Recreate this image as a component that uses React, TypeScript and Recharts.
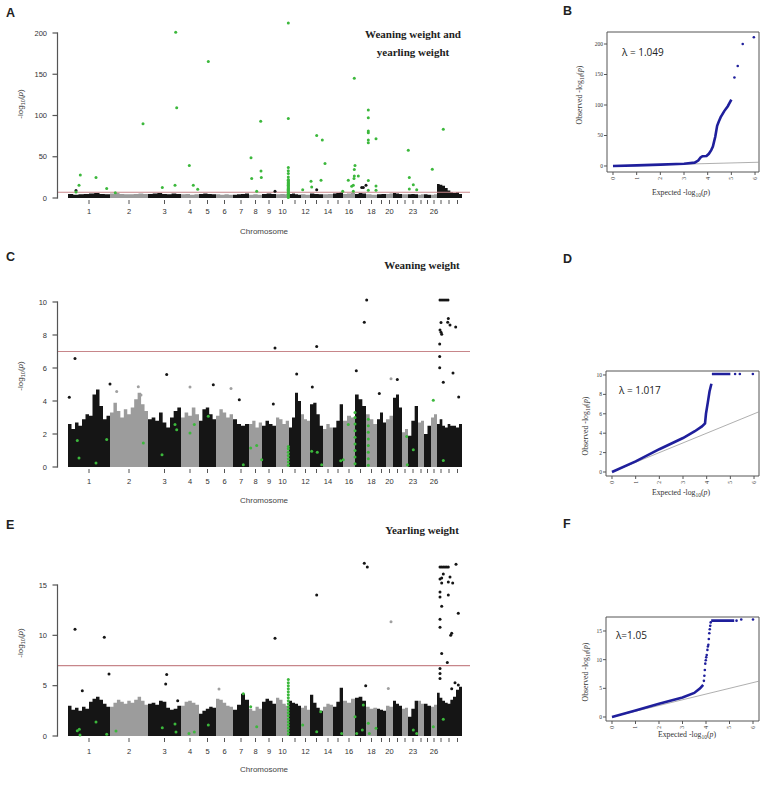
import React from "react";
import { ComposedChart, Area, Scatter, Line, XAxis, YAxis, ReferenceLine, ReferenceArea } from "recharts";

// chromosome layout as plotted (widths in genome-axis units)
const chrNames = ["1","2","3","4","5","6","7","8","9","10","11","12","13","14","15","16","17","18","19","20","21","22","23","24","25","26","27","28","29"];
const chrLen = [42,38,33,18,17,17,16,13,14,13,12,9,13,10,10,12,11,11,9,7,9,6,10,6,7,6,8,8,9];
const chrShade = ["k","g","k","g","k","g","k","g","k","g","k","g","k","g","k","g","k","g","k","g","k","g","k","g","k","g","k","k","k"];
const chrShown = ["1","2","3","4","5","6","7","8","9","10","12","14","16","18","20","23","26"];

// upper envelope of the dense SNP cloud per chromosome (-log10 p)
const massA = [
  [5,4,4.5,5,5.5,6,5,4.5],[5.5,6,5,4.5,4.5,5,5.5,5],[5,5.5,6,5,4.5,5.5,5],[4.5,5,4,4.5],[5,5.5,5,4.5],
  [4.5,4,4.5,4],[4,4.5,5,5.5],[4,4.5,4],[5,5.5,5],[4.5,5,4.5],[5,5.5,4.5,4],[4.5,4],[5.5,5,4.5],[4.5,5],
  [5.5,6,7],[5,5.5,6],[5,6,5.5],[4.5,4],[4.5,5],[5,5.5],[6,5.5,5],[4.5],[4.5,5,4.5],[4,4.5],[4.5,4],[4,4.5],
  [17,16,15],[12,9,7],[6,7,5],
];
const massC = [
  [2.6,2.3,2.7,2.5,2.9,3.2,3.1,4.4,4.7,3.7,2.9,3.1],[3.3,3.9,3.4,3.0,3.5,3.2,3.6,4.1,4.5,3.8,3.4],
  [2.9,3.0,2.8,3.3,2.7,2.4,3.0,3.4,3.6],[3.0,3.3,3.1,3.6,3.2],[2.8,3.5,3.6,3.2,2.9],[3.1,3.5,3.3,3.0,3.2],
  [2.9,2.6,2.5,2.6],[2.6,2.8,2.4,2.7],[2.5,2.8,2.6,2.5],[3.0,2.9,2.6,2.8],[2.4,3.0,4.5,4.0],[3.2,2.9,2.8],
  [3.8,3.9,3.2,2.5],[2.3,2.6,2.4],[2.4,2.8,3.8],[2.8,3.1,3.0],[4.4,4.1,3.7],[3.2,2.9,2.6],[2.9,3.3,2.7],
  [2.9,3.1],[4.2,4.4,3.6],[2.1,2.3],[1.9,2.8,3.7],[2.7,2.8],[2.0,2.5],[3.0,3.2],[2.6,2.9,2.5],[2.4,2.6,2.5],[2.5,2.4,2.6],
];
const massE = [
  [3.0,2.6,2.8,2.5,2.9,2.7,3.4,3.7,3.9,3.6,3.2,2.9],[2.9,3.3,3.6,3.4,3.2,3.5,3.3,3.6,3.9,3.5,3.1],
  [3.2,3.3,3.1,3.5,3.4,2.8,2.6,2.7,3.0],[3.0,3.4,3.5,3.3,3.1],[2.2,2.5,2.7,2.9,2.8],[3.7,3.6,3.3,3.0,2.9],
  [2.6,3.1,4.2,3.6],[2.7,2.5,2.9,2.7],[3.4,3.7,3.5,3.2],[3.8,3.6,3.2,3.0],[3.5,3.3,3.2,3.0],[2.8,3.0,2.6],
  [4.1,3.3,2.8,2.5],[2.9,3.2,3.1],[2.9,3.4,4.8],[3.5,3.3,3.7],[3.8,3.9,3.5],[2.9,2.7,2.8],[2.7,2.6,2.5],
  [3.0,2.9],[3.5,3.2,3.0],[2.7,2.8],[1.9,2.7,3.5],[3.5,3.2],[3.2,3.0],[2.9,3.1],[4.3,3.8,3.5],[3.3,3.2,3.6],[3.9,4.6,4.9],
];

// individual SNPs [position, -log10 p]
const greenA = [[12.3,28],[11,15.4],[8,7.3],[28,24.7],[38.7,11.4],[47.3,6.5],[75,90],[94.3,12.6],[107.7,201],[108.7,109.5],[107,15.4],[121.3,39.4],[125.3,15.4],[129.7,10.5],[140.3,165.5],[183,48.7],[183.7,23.5],[188.7,8.1],[192.7,92.9],[193,32.8],[193.3,24.7],[220.3,212],[220.3,96.5],[234.7,10.1],[243,20.3],[243.7,13.4],[248.7,75.9],[253,21.5],[254.3,70.2],[257,41.8],[274.7,8.1],[280.3,21.5],[283.7,14.2],[286.3,145.2],[287,39.4],[286.3,34.5],[286.3,26.8],[286,23.5],[285.3,15.4],[285.3,8.1],[290.3,26.8],[300.3,106.7],[300.3,97.4],[300.3,81.1],[300.3,79.1],[300.3,70.2],[300.3,66.9],[300.3,21.1],[300.3,9.3],[308,71.8],[308,14.6],[308,9.3],[340.3,58],[341.3,24.7],[345.3,16.2],[348.7,10.1],[341.3,11],[364.3,34.9],[375.3,83.2]];
const blackA = [[8,9],[207,8.1],[248.7,10.1],[293.7,12.6],[295.3,12.6],[298,15.4]];
const greyA: number[][] = [];
const blackC = [[298.7,10.12],[296.3,8.77],[372,10.12],[374,10.12],[376,10.12],[378,10.12],[380,10.12],[373,8.75],[372,8.3],[373,8.16],[373.7,8.04],[371.7,7.45],[371.7,6.69],[371.7,6.02],[380.3,9.0],[379.7,8.77],[382,8.6],[387.7,8.48],[385,5.7],[375.3,5.13],[390.7,4.24],[288.3,5.84],[311.3,4.46],[329.3,5.3],[207,7.21],[248.7,7.31],[7,6.57],[98.7,5.6],[228.7,5.64],[244.3,4.85],[145.3,4.99],[1.3,4.22],[42,5.03],[171.3,4.08],[205.3,3.82]];
const greyC = [[323,5.35],[122,4.85],[163,4.75],[70.3,4.87],[48.7,4.57],[73,4.36]];
const greenC = [[9.3,1.6],[11,0.55],[28,0.24],[38.7,1.66],[75.3,1.45],[94,0.75],[107,2.57],[108.7,2.26],[122,2.06],[126.3,2.57],[140.3,3.07],[175.3,0.14],[182.7,1.15],[188.7,1.3],[193.7,0.44],[243.7,0.95],[249.3,0.9],[253.7,0.14],[272.7,0.38],[275.3,0.44],[280.3,2.57],[287,0.2],[287,0.6],[287,1.0],[287,1.4],[287,1.8],[287,2.2],[287,2.6],[287,3.0],[287,3.3],[300.3,0.1],[300.3,0.5],[300.3,0.9],[300.3,1.3],[300.3,1.7],[300.3,2.1],[300.3,2.5],[300.3,2.9],[338.7,1.85],[339.3,0.14],[345.3,1.05],[365.3,4.04],[375.3,0.4]];
const blackE = [[7,10.6],[36.3,9.8],[41,6.15],[14.3,4.5],[98.7,6.1],[97.7,5.16],[109.7,3.5],[207,9.7],[248.7,14.0],[296.3,17.15],[299.3,16.8],[297.7,5.0],[372,16.8],[373.7,16.8],[375.3,16.8],[377,16.8],[378.7,16.8],[380.3,16.8],[388,17.05],[372,15.6],[373.7,15.7],[373.7,15.2],[375.3,16.1],[372,14.3],[372,13.8],[373.7,12.9],[372,11.6],[372,10.8],[373.7,8.2],[372,6.7],[372,6.2],[372,5.7],[380.3,14.0],[380.3,15.3],[382,15.8],[384.7,15.2],[383.7,10.2],[382.7,10.0],[379.3,7.3],[390.3,12.2],[387,5.3],[390.3,5.07],[383.7,4.7]];
const greyE = [[323,11.36],[320.3,4.73],[151,4.67]];
const greenE = [[9.3,0.53],[11.3,0.66],[12,0.1],[28,1.39],[38.7,0.17],[48,0.5],[94.3,0.83],[107,1.19],[108,0.4],[121,0.26],[126.3,0.4],[140.3,1.09],[175.3,4.2],[182.7,2.9],[188.7,0.93],[234.7,1.1],[248.7,0.43],[252.7,2.4],[273.7,0.26],[287,1.9],[288.7,0.26],[295.3,3.08],[294.3,0.6],[300.3,1.26],[301.3,0.26],[308,0.76],[345.3,0.6],[348.7,0.26],[365.3,0.93],[375.3,1.66]];

// the green chr10 column of SNPs
const colPos = 220.3;
const colA = [0.5,1.5,2.5,3.5,4.5,5.5,6.5,7.5,8.5,9.5,10.5,11.5,12.5,13.5,14.5,15.5,16.5,17.5,18.5,19.5,20.5,21.5,22.5,25.6,29.6,33,37];
const colC = [0.1,0.3,0.5,0.7,0.9,1.1,1.25];
const colE = [0.2,0.5,0.8,1.1,1.4,1.7,2.0,2.3,2.6,2.9,3.2,3.5,3.8,4.1,4.4,4.7,5.0,5.3,5.6];

// QQ plots [expected, observed]
const qqBLine = [[0,0],[1,1],[2,2.2],[3,3.6],[3.45,5.5],[3.6,9],[3.7,14],[3.78,16],[3.95,16.5],[4.05,20],[4.15,26],[4.22,32],[4.27,40],[4.32,48],[4.36,57],[4.4,66],[4.47,73],[4.55,80],[4.7,90],[4.85,98],[5.0,109]];
const qqBDots = [[5.13,145],[5.27,164],[5.48,200],[5.95,211]];
const qqDLine = [[0,0],[1,1.1],[2,2.35],[3,3.5],[3.5,4.2],[3.8,4.7],[3.93,5.0],[3.97,6.0],[4.05,7.2],[4.12,8.3],[4.2,9.1],[4.21,null],[4.22,10.1],[5.0,10.1]];
const qqDDots = [[5.2,10.1],[5.4,10.1],[5.95,10.1]];
const qqFLine = [[0,0],[1,1.15],[2,2.3],[3,3.4],[3.5,4.2],[3.75,5.0],[3.88,5.6],[3.89,null],[4.22,16.8],[5.2,16.8]];
const qqFDots = [[3.91,6.3],[3.93,7.2],[3.95,8.2],[3.97,9.3],[3.99,9.9],[4.01,10.4],[4.03,10.8],[4.06,11.7],[4.08,12.3],[4.1,12.6],[4.12,13.6],[4.14,14.6],[4.16,15.3],[4.18,15.9],[4.2,16.5],[5.3,16.8],[5.5,17.0],[6.0,17.0]];
const qqDiag = [[0,0],[6.25,6.25]];

const sans = "'Liberation Sans', Arial, sans-serif";
const serif = "'Liberation Serif', 'Times New Roman', serif";
const BLUE = "#1f1f9c";
const GREEN = "#3cb83c";
const xDomain = [-11, 402];

const centers: number[] = [];
{
  let s = 0;
  chrLen.forEach((l) => { centers.push(s + l / 2); s += l; });
}

// step-area rows for the SNP cloud
function buildMass(heights: number[][]) {
  const rows: any[] = [];
  let start = 0;
  chrLen.forEach((len, i) => {
    const key = chrShade[i] === "k" ? "blk" : "gry";
    const hs = heights[i];
    const w = len / hs.length;
    hs.forEach((h, j) => rows.push({ pos: start + j * w, [key]: h }));
    rows.push({ pos: start + len, [key]: hs[hs.length - 1] });
    start += len;
  });
  return rows;
}

const toPts = (a: number[][]) => a.map(([pos, p]) => ({ pos, p }));
const colPts = (vals: number[]) => vals.map((p) => ({ pos: colPos, p }));
const toQQ = (a: (number | null)[][]) => a.map(([e, o]) => ({ e, o }));
const dot = (fill: string, r: number) => (props: any) => <circle cx={props.cx} cy={props.cy} r={r} fill={fill} />;

// R-style y axis: a line from the first to the last tick, ticks pointing left
const RAxisY = (props: any) => {
  const { x, y, payload, index, yTop, yBottom } = props;
  return (
    <g>
      <line x1={x + 5.5} x2={x + 10.5} y1={y} y2={y} stroke="#555" strokeWidth={1.2} />
      {index === 0 && <line x1={x + 10.5} x2={x + 10.5} y1={yBottom + 0.6} y2={yTop - 0.6} stroke="#555" strokeWidth={1.2} />}
      <text x={x} y={y} dy="0.35em" textAnchor="end" fontSize={7.5} fill="#333" fontFamily={sans}>{payload.value}</text>
    </g>
  );
};

const Manhattan = ({ top, height, marginTop, yDomain, yTicks, tickGap, mass, black, grey, green, col }: any) => {
  const plotH = height - marginTop - 30;
  const span = yDomain[1] - yDomain[0];
  const yPix = (v: number) => marginTop + ((yDomain[1] - v) / span) * plotH;
  return (
    <div style={{ position: "absolute", left: 0, top }}>
      <ComposedChart width={480} height={height} data={buildMass(mass)} margin={{ top: marginTop, right: 10, bottom: 0, left: 0 }}>
        <XAxis dataKey="pos" type="number" domain={xDomain} allowDataOverflow ticks={centers} interval={0}
          tickFormatter={(v: number, i: number) => (chrShown.includes(chrNames[i]) ? chrNames[i] : "")}
          tickSize={4} tickMargin={tickGap} tickLine={{ stroke: "#555" }} axisLine={false} height={30}
          tick={{ fontSize: 7.5, fill: "#333", fontFamily: sans }} />
        <YAxis type="number" domain={yDomain} allowDataOverflow ticks={yTicks} interval={0} width={57}
          tickSize={4} tickMargin={6} tickLine={false} axisLine={false}
          tick={<RAxisY yTop={yPix(yTicks[yTicks.length - 1])} yBottom={yPix(yTicks[0])} />} />
        <Area dataKey="gry" type="stepAfter" fill="#9c9c9c" fillOpacity={1} stroke="none" baseValue={0} dot={false} activeDot={false} isAnimationActive={false} />
        <Area dataKey="blk" type="stepAfter" fill="#151515" fillOpacity={1} stroke="none" baseValue={0} dot={false} activeDot={false} isAnimationActive={false} />
        <Scatter data={toPts(grey)} dataKey="p" shape={dot("#a0a0a0", 1.5)} isAnimationActive={false} />
        <Scatter data={toPts(black)} dataKey="p" shape={dot("#151515", 1.5)} isAnimationActive={false} />
        <Scatter data={[...toPts(green), ...colPts(col)]} dataKey="p" shape={dot(GREEN, 1.5)} isAnimationActive={false} />
        <ReferenceLine y={7} stroke="#c7868a" strokeWidth={1.2} ifOverflow="visible" />
      </ComposedChart>
    </div>
  );
};

const QQXTick = (props: any) => {
  const { x, y, payload } = props;
  return (
    <text x={x} y={y} transform={`rotate(-90 ${x} ${y})`} textAnchor="end" dy="0.35em" fontSize={5.5} fill="#333" fontFamily={serif}>
      {payload.value}
    </text>
  );
};

const QQ = ({ top, height, marginTop, yWidth, xDom, yDom, yTicks, line, dots }: any) => (
  <div style={{ position: "absolute", left: 560, top }}>
    <ComposedChart width={207} height={height} margin={{ top: marginTop, right: 8, bottom: 0, left: 0 }}>
      <XAxis dataKey="e" type="number" domain={xDom} allowDataOverflow ticks={[0, 1, 2, 3, 4, 5, 6]} interval={0}
        tickSize={3} tickMargin={2} tickLine={{ stroke: "#555" }} axisLine={false} height={30} tick={<QQXTick />} />
      <YAxis type="number" domain={yDom} allowDataOverflow ticks={yTicks} interval={0} width={yWidth}
        tickSize={3} tickMargin={1} tickLine={{ stroke: "#555" }} axisLine={false}
        tick={{ fontSize: 5.5, fill: "#333", fontFamily: serif }} />
      <ReferenceArea x1={xDom[0]} x2={xDom[1]} y1={yDom[0]} y2={yDom[1]} fill="none" stroke="#555" strokeWidth={1} ifOverflow="visible" />
      <Line data={toQQ(qqDiag)} dataKey="o" type="linear" stroke="#9a9a9a" strokeWidth={0.8} dot={false} activeDot={false} isAnimationActive={false} />
      <Line data={toQQ(line)} dataKey="o" type="linear" stroke={BLUE} strokeWidth={2.6} dot={false} activeDot={false} isAnimationActive={false} />
      <Scatter data={toQQ(dots)} dataKey="o" shape={dot(BLUE, 1.3)} isAnimationActive={false} />
    </ComposedChart>
  </div>
);

const Txt = ({ x, y, size, family = sans, weight = 400, color = "#222", rot = false, left = false, children }: any) => (
  <div style={{
    position: "absolute", left: x, top: y, whiteSpace: "nowrap", fontSize: size, fontFamily: family, fontWeight: weight, color, lineHeight: 1,
    transform: `${left ? "translate(0,-50%)" : "translate(-50%,-50%)"}${rot ? " rotate(-90deg)" : ""}`,
  }}>{children}</div>
);

const LogP = ({ pre = "" }: any) => (
  <>{pre}-log<span style={{ fontSize: "0.7em", verticalAlign: "-0.3em" }}>10</span>(<i>p</i>)</>
);

export default function App() {
  return (
    <div style={{ position: "absolute", left: 0, top: 0, width: 767, height: 787, background: "#fff", overflow: "hidden" }}>
      <Manhattan top={0} height={230} marginTop={16} yDomain={[-2.42, 220.6]} yTicks={[0, 50, 100, 150, 200]} tickGap={5}
        mass={massA} black={blackA} grey={greyA} green={greenA} col={colA} />
      <Manhattan top={263} height={236} marginTop={30} yDomain={[-0.121, 10.545]} yTicks={[0, 2, 4, 6, 8, 10]} tickGap={6}
        mass={massC} black={blackC} grey={greyC} green={greenC} col={colC} />
      <Manhattan top={525} height={243} marginTop={30} yDomain={[-0.199, 17.98]} yTicks={[0, 5, 10, 15]} tickGap={7}
        mass={massE} black={blackE} grey={greyE} green={greenE} col={colE} />

      <QQ top={0} height={202} marginTop={32} yWidth={47} xDom={[-0.253, 6.168]} yDom={[-9.84, 219.7]} yTicks={[0, 50, 100, 150, 200]} line={qqBLine} dots={qqBDots} />
      <QQ top={341} height={165} marginTop={30} yWidth={46} xDom={[-0.253, 6.21]} yDom={[-0.412, 10.41]} yTicks={[0, 2, 4, 6, 8, 10]} line={qqDLine} dots={qqDDots} />
      <QQ top={587} height={164} marginTop={30} yWidth={46} xDom={[-0.255, 6.255]} yDom={[-0.698, 17.44]} yTicks={[0, 5, 10, 15]} line={qqFLine} dots={qqFDots} />

      <Txt x={6} y={13} size={12.5} weight={700} left>A</Txt>
      <Txt x={6} y={257} size={12.5} weight={700} left>C</Txt>
      <Txt x={6} y={525} size={12.5} weight={700} left>E</Txt>
      <Txt x={563} y={11} size={12.5} weight={700} left>B</Txt>
      <Txt x={563} y={259} size={12.5} weight={700} left>D</Txt>
      <Txt x={563} y={524} size={12.5} weight={700} left>F</Txt>

      <Txt x={413} y={34} size={11} family={serif} weight={700}>Weaning weight and</Txt>
      <Txt x={413} y={52} size={11} family={serif} weight={700}>yearling weight</Txt>
      <Txt x={422} y={265} size={11} family={serif} weight={700}>Weaning weight</Txt>
      <Txt x={422} y={530} size={11} family={serif} weight={700}>Yearling weight</Txt>

      <Txt x={264} y={232} size={8} color="#444">Chromosome</Txt>
      <Txt x={264} y={501} size={8} color="#444">Chromosome</Txt>
      <Txt x={264} y={770} size={8} color="#444">Chromosome</Txt>
      <Txt x={22} y={104} size={8} color="#444" rot><LogP /></Txt>
      <Txt x={22} y={376} size={8} color="#444" rot><LogP /></Txt>
      <Txt x={22} y={643} size={8} color="#444" rot><LogP /></Txt>

      <Txt x={622} y={52} size={10} family="'Open Sans', sans-serif" left>λ = 1.049</Txt>
      <Txt x={619} y={390} size={10} family="'Open Sans', sans-serif" left>λ = 1.017</Txt>
      <Txt x={616} y={635} size={10} family="'Open Sans', sans-serif" left>λ=1.05</Txt>

      <Txt x={581} y={95} size={7.8} family={serif} color="#333" rot><LogP pre="Observed " /></Txt>
      <Txt x={587} y={426} size={7.8} family={serif} color="#333" rot><LogP pre="Observed " /></Txt>
      <Txt x={587} y={672} size={7.8} family={serif} color="#333" rot><LogP pre="Observed " /></Txt>
      <Txt x={681} y={194} size={7.8} family={serif} color="#333"><LogP pre="Expected " /></Txt>
      <Txt x={681} y={494} size={7.8} family={serif} color="#333"><LogP pre="Expected " /></Txt>
      <Txt x={687} y={736} size={7.8} family={serif} color="#333"><LogP pre="Expected " /></Txt>
    </div>
  );
}
